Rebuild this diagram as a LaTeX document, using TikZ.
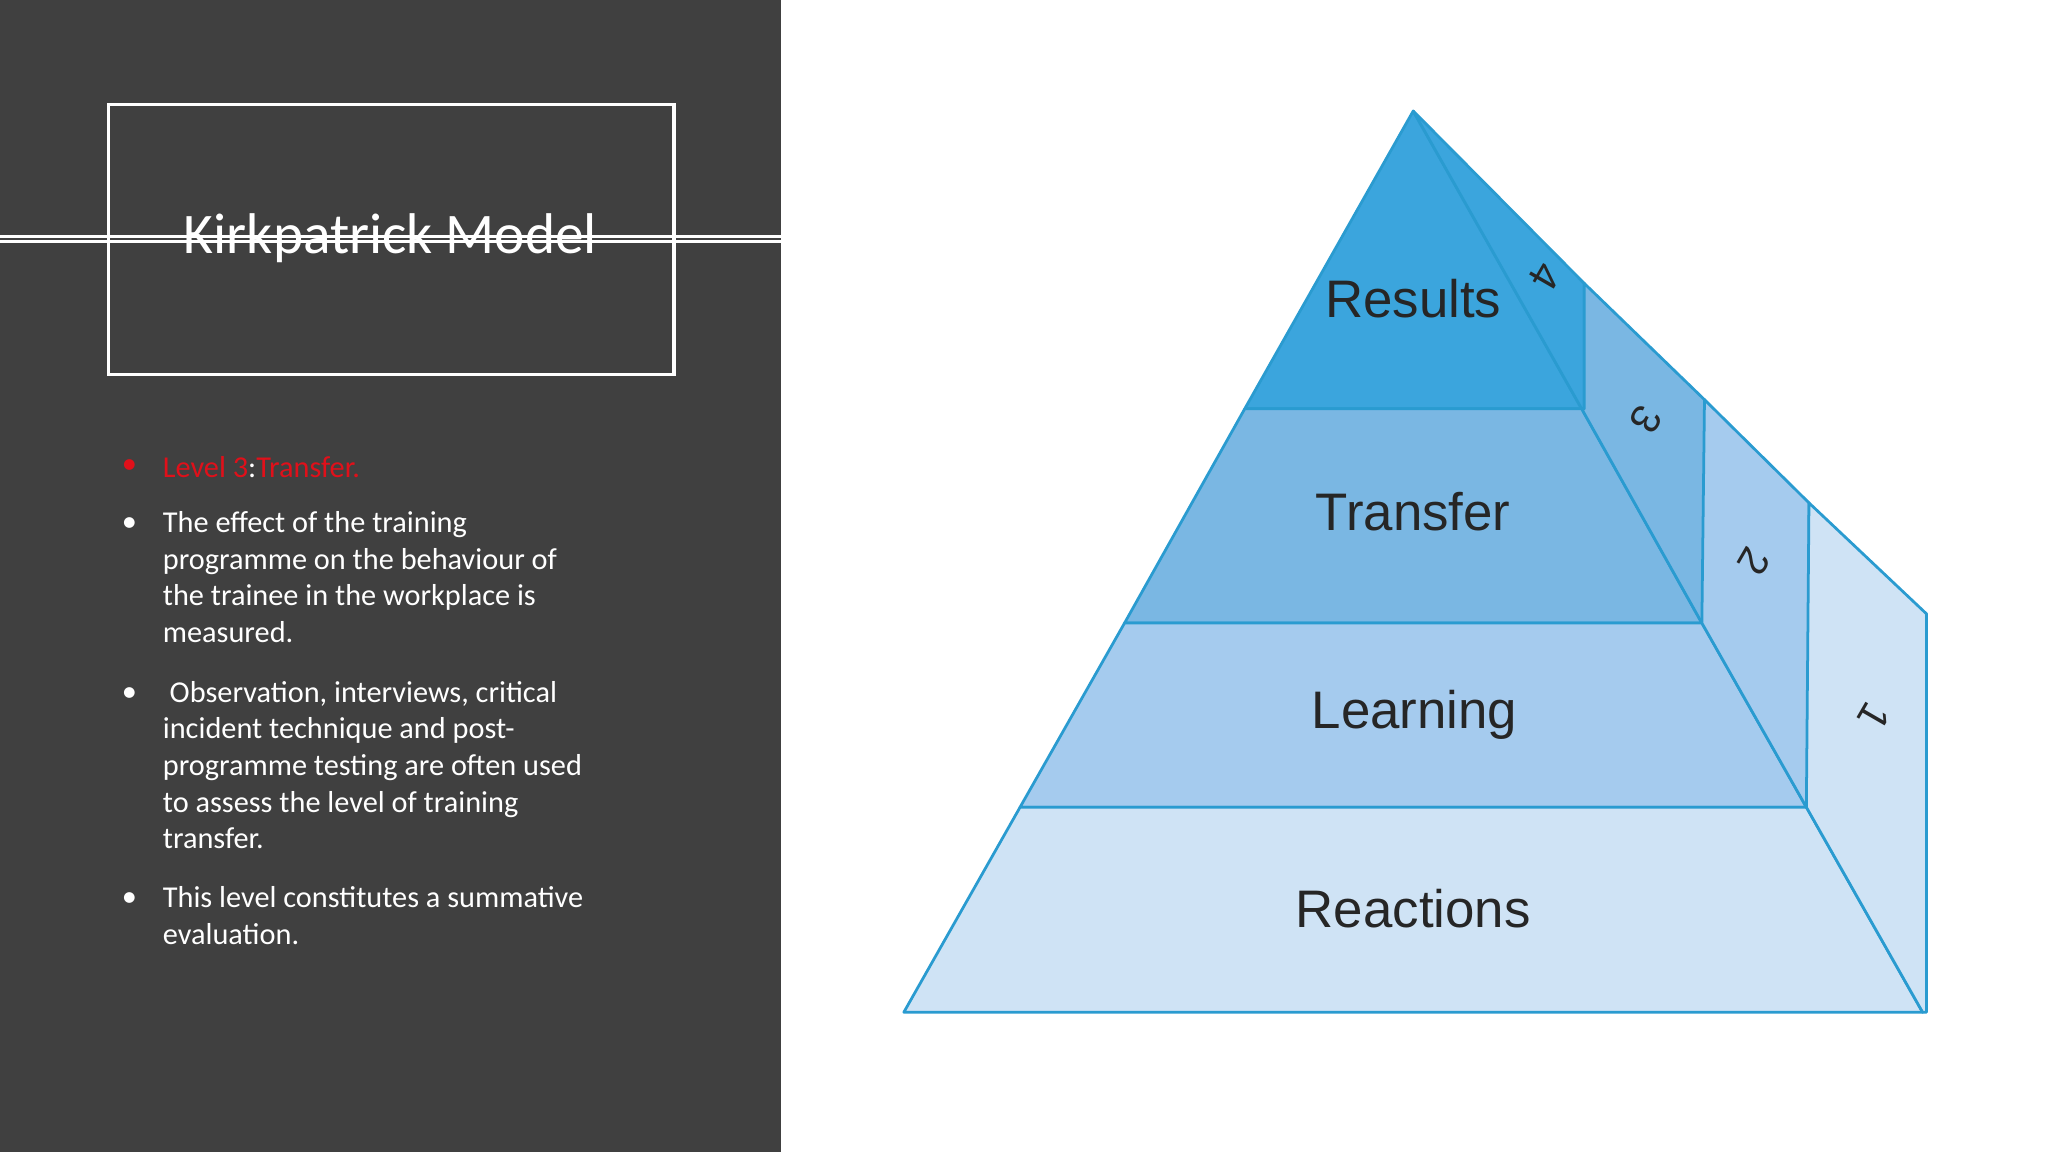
\documentclass[tikz,border=0pt]{standalone}
\usepackage{fontspec}
\setmainfont{Carlito}
\newfontfamily\arialf{Liberation Sans}
\begin{document}
\begin{tikzpicture}[x=0.01cm,y=-0.01cm,
  edge/.style={draw=lineblue,line width=0.6pt,line join=round},
  lvl/.style={font=\arialf\fontsize{11.5}{13}\selectfont,text=black!85},
  num/.style={font=\arialf\fontsize{9}{10}\selectfont,text=black!85},
  btxt/.style={anchor=north west,align=left,text=white,font=\fontsize{6.6}{7.95}\selectfont,inner sep=0pt}]
\definecolor{panel}{HTML}{404040}
\definecolor{lineblue}{HTML}{2A9BD0}
\definecolor{cA}{HTML}{3BA5DD}
\definecolor{cB}{HTML}{7AB7E3}
\definecolor{cC}{HTML}{A5CBEE}
\definecolor{cD}{HTML}{CFE3F5}
\definecolor{lred}{HTML}{E0101A}
\useasboundingbox (0,0) rectangle (1568,882);
\fill[white] (0,0) rectangle (1568,882);
\fill[panel] (0,0) rectangle (598,882);
\node[draw=white,line width=0.7pt,minimum width=433\pgflinewidth,inner sep=0pt] (tbox) at (299,183) {};
\draw[white,line width=0.7pt] (83,80) rectangle (516,287);
\node[text=white,font=\fontsize{12.5}{14}\selectfont] (title) at (299,182) {Kirkpatrick Model};
% bullets
\node[text=lred,font=\fontsize{6.6}{8}\selectfont] (b0) at (99,357) {•};
\node[btxt,anchor=west] (t0) at (124,358) {\textcolor{lred}{Level 3}:\textcolor{lred}{Transfer.}};
\node[text=white,font=\fontsize{6.6}{8}\selectfont] (b1) at (99,402) {•};
\node[btxt] (t1) at (124,391) {The effect of the training\\programme on the behaviour of\\the trainee in the workplace is\\measured.};
\node[text=white,font=\fontsize{6.6}{8}\selectfont] (b2) at (99,532) {•};
\node[btxt] (t2) at (124,521) {\ Observation, interviews, critical\\incident technique and post-\\programme testing are often used\\to assess the level of training\\transfer.};
\node[text=white,font=\fontsize{6.6}{8}\selectfont] (b3) at (99,689) {•};
\node[btxt] (t3) at (124,678) {This level constitutes a summative\\evaluation.};
% pyramid front
\coordinate (ap) at (1082,85);
\filldraw[edge,fill=cA] (ap) -- (953,313) -- (1211,313) -- cycle;
\filldraw[edge,fill=cB] (953,313) -- (861,477) -- (1303,477) -- (1211,313) -- cycle;
\filldraw[edge,fill=cC] (861,477) -- (781,618) -- (1383,618) -- (1303,477) -- cycle;
\filldraw[edge,fill=cD] (781,618) -- (692,775) -- (1472,775) -- (1383,618) -- cycle;
% sides
\filldraw[edge,fill=cA] (ap) -- (1213,217) -- (1213,313) -- (1211,313) -- cycle;
\filldraw[edge,fill=cB] (1213,217) -- (1305,306) -- (1305,477) -- (1303,477) -- (1211,313) -- (1213,313) -- cycle;
\filldraw[edge,fill=cC] (1305,306) -- (1385,385) -- (1385,618) -- (1383,618) -- (1303,477) -- cycle;
\filldraw[edge,fill=cD] (1385,385) -- (1475,470) -- (1475,775) -- (1472,775) -- (1383,618) -- cycle;
\node[lvl] (l4) at (1082,229) {Results};
\node[lvl] (l3) at (1082,392) {Transfer};
\node[lvl] (l2) at (1083,547) {Learning};
\node[lvl] (l1) at (1082,696) {Reactions};
\node[num,rotate=-120] (n4) at (1183,212) {4};
\node[num,rotate=-120] (n3) at (1260,321) {3};
\node[num,rotate=-120] (n2) at (1343,430) {2};
\node[num,rotate=-120] (n1) at (1435,549) {1};
\end{tikzpicture}
\end{document}
